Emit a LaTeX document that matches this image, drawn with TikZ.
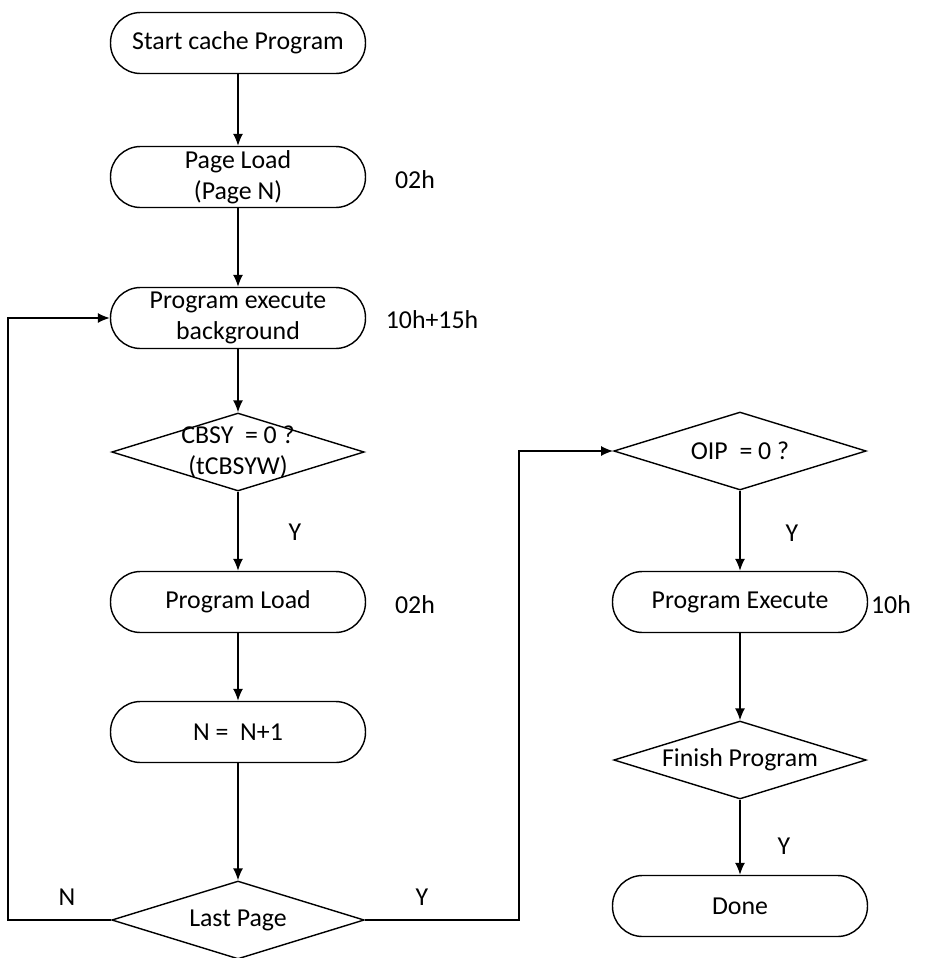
\documentclass[tikz,border=0pt]{standalone}
\usepackage{fontspec}
\setmainfont{Carlito}
\usepackage{tikz}
\usetikzlibrary{arrows.meta,shapes.geometric,positioning}

\tikzset{
  term/.style={draw, thick, rounded corners=0.6cm, minimum width=5.1cm,
    minimum height=1.22cm, align=center, inner sep=2pt},
  decision/.style={draw, thick, diamond, aspect=3.25, minimum width=5.05cm,
    minimum height=1.56cm, inner sep=0pt, align=center},
  flow/.style={draw, thick, -{Latex[length=2.4mm,width=2mm]}},
  note/.style={inner sep=1pt}
}

\begin{document}
\begin{tikzpicture}[x=0.02cm, y=-0.02cm, font=\fontsize{14.7}{17.5}\selectfont]
    \useasboundingbox (0,0) rectangle (928,958);

    %Left column
     \begin{scope}
       \node[term] (start) at (238,43) {Start cache Program};
       \node[term] (pageload) at (238,177) {Page Load\\(Page N)};
       \node[term] (progbg) at (238,318) {Program execute\\background};
       \node[decision, label={[align=center]center:CBSY~ = 0 ?\\(tCBSYW)}] (cbsy) at (238,452) {};
       \node[term] (progload) at (238,602) {Program Load};
       \node[term] (incr) at (238,732) {N =~ N+1};
       \node[decision] (lastpage) at (238,920) {Last Page};
    \end{scope}

    %Right column
     \begin{scope}
       \node[decision] (oip) at (740,451) {OIP~ = 0 ?};
       \node[term] (progexec) at (740,602) {Program Execute};
       \node[decision] (finish) at (740,760) {Finish Program};
       \node[term] (done) at (740,906) {Done};
    \end{scope}

    %Side notes
     \begin{scope}[every node/.style={note}]
       \node (cmd1) at (415,180) {02h};
       \node (cmd2) at (432,320) {10h+15h};
       \node (cmd3) at (415,605) {02h};
       \node (cmd4) at (891,605) {10h};
       \node (ycbsy) at (295,532) {Y};
       \node (noloop) at (67,897) {N};
       \node (yloop) at (422,897) {Y};
       \node (yoip) at (792,533) {Y};
       \node (yfinish) at (784,846) {Y};
    \end{scope}

    \coordinate (loopL) at (8,920);
    \coordinate (loopR) at (519,920);

    \begin{scope}[every path/.style={flow}]
      \path (start) edge (pageload);
      \path (pageload) edge (progbg);
      \path (progbg) edge (cbsy);
      \path (cbsy) edge (progload);
      \path (progload) edge (incr);
      \path (incr) edge (lastpage);
      \path (oip) edge (progexec);
      \path (progexec) edge (finish);
      \path (finish) edge (done);
    \end{scope}

    \draw[flow] (lastpage.west) -- (loopL) |- (progbg.west);
    \draw[flow] (lastpage.east) -- (loopR) |- (oip.west);
  \end{tikzpicture}
\end{document}
